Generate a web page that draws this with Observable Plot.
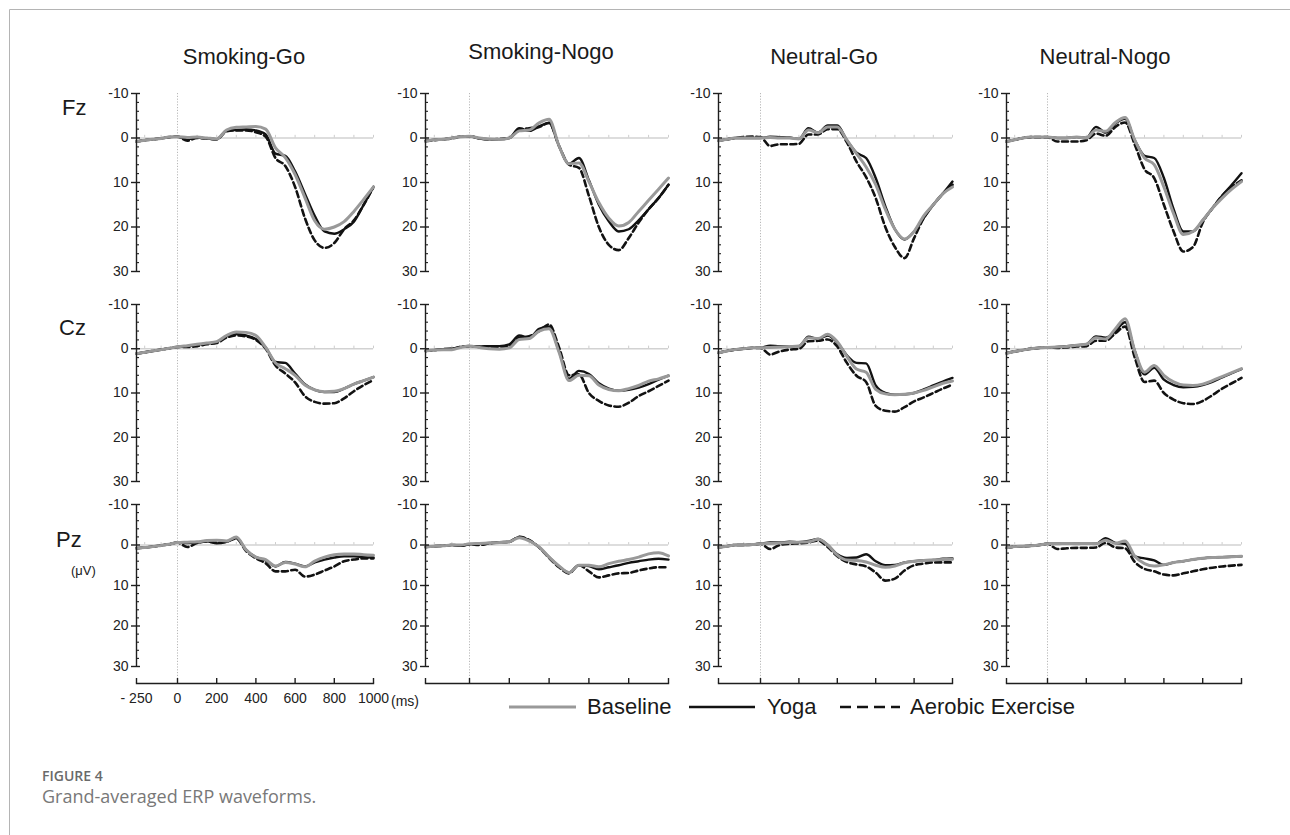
<!DOCTYPE html>
<html>
<head>
<meta charset="utf-8">
<script src="https://cdn.jsdelivr.net/npm/d3@7"></script>
<script src="https://cdn.jsdelivr.net/npm/@observablehq/plot@0.6"></script>
<style>
  body { margin: 0; background: #fff; }
  #figure { position: relative; width: 1290px; height: 835px; overflow: hidden; background: #fff;
            font-family: "Liberation Sans", Arial, sans-serif; }
  #figure svg.erp-panel { position: absolute; }
</style>
</head>
<body>
<div id="figure"></div>
<script>
// ---------------------------------------------------------------------------
// Grand-averaged ERP waveforms (µV, negative up), sampled every 50 ms
// ---------------------------------------------------------------------------
const times = [-250, -200, -150, -100, -50, 0, 50, 100, 150, 200, 250, 300, 350,
               400, 450, 500, 550, 600, 650, 700, 750, 800, 850, 900, 950, 1000];

const conditions = ["Smoking-Go", "Smoking-Nogo", "Neutral-Go", "Neutral-Nogo"];
const electrodes = ["Fz", "Cz", "Pz"];
const groups = ["Baseline", "Yoga", "Aerobic Exercise"];

const xTicks = [-250, 0, 200, 400, 600, 800, 1000];
const zeroLineTicks = [-200, -100, 100, 200, 300, 400, 500, 600, 700, 800, 900, 1000];
const yTicks = [-10, 0, 10, 20, 30];
const yMinorTicks = [-8, -6, -4, -2, 2, 4, 6, 8, 12, 14, 16, 18, 22, 24, 26, 28];

// Each array holds one row per condition, in the order of `conditions`.
const baselineFz = [
  [0.8, 0.5, 0.3, 0.1, -0.2, -0.3, -0.1, -0.2, 0.0, 0.2, -1.8, -2.4, -2.5, -2.6, -2.0, 2.2, 4.4, 8.2, 13.4, 18.6, 20.5, 20.0, 18.8, 16.5, 13.8, 11.0],
  [0.7, 0.4, 0.3, 0.0, -0.3, -0.4, 0.0, 0.2, 0.3, 0.0, -1.6, -1.8, -3.4, -4.2, 1.8, 5.8, 5.6, 9.8, 14.5, 18.0, 19.8, 19.0, 16.5, 14.0, 11.5, 9.0],
  [0.6, 0.3, 0.0, 0.0, 0.0, 0.0, -0.1, 0.0, 0.0, 0.2, -1.8, -1.2, -2.5, -2.5, 0.5, 3.5, 6.5, 10.5, 16.0, 20.5, 22.7, 21.0, 17.5, 15.0, 12.5, 11.0],
  [0.8, 0.4, 0.0, -0.2, -0.2, -0.2, 0.0, 0.0, -0.2, 0.0, -1.8, -1.5, -3.5, -4.6, 0.5, 4.5, 6.0, 11.0, 17.0, 21.7, 21.0, 18.5, 15.8, 13.5, 11.5, 9.8]
];
const yogaFz = [
  [0.8, 0.5, 0.3, 0.1, -0.2, -0.3, 0.3, -0.1, 0.1, 0.3, -1.6, -1.8, -1.9, -1.7, -0.8, 3.5, 4.0, 7.5, 12.5, 17.5, 21.0, 21.5, 20.5, 18.8, 15.0, 11.0],
  [0.7, 0.4, 0.3, 0.0, -0.3, -0.4, 0.1, 0.3, 0.3, 0.0, -2.2, -1.6, -2.6, -3.4, 1.8, 5.8, 4.5, 9.5, 15.0, 18.7, 21.0, 20.5, 18.5, 16.0, 13.5, 10.5],
  [0.6, 0.3, 0.0, 0.0, 0.0, 0.0, -0.3, -0.2, -0.1, 0.2, -2.2, -1.2, -2.8, -2.8, 0.5, 3.3, 4.5, 9.0, 15.3, 20.5, 22.8, 21.0, 18.0, 15.0, 12.5, 9.8],
  [0.8, 0.4, 0.0, -0.2, -0.2, -0.2, 0.0, 0.0, -0.2, 0.0, -2.5, -1.2, -3.3, -4.3, 0.5, 4.0, 4.5, 9.0, 16.0, 21.0, 21.0, 18.5, 15.8, 13.0, 10.5, 7.9]
];
const aerobicFz = [
  [0.8, 0.5, 0.3, 0.1, -0.2, -0.3, 0.6, 0.0, 0.1, 0.3, -1.5, -1.7, -1.7, -1.3, -0.3, 4.5, 6.3, 11.0, 18.0, 23.0, 24.7, 23.6, 20.5, 18.5, 15.0, 11.0],
  [0.7, 0.5, 0.3, 0.1, -0.3, -0.4, 0.1, 0.3, 0.2, 0.0, -1.8, -2.2, -2.5, -3.4, 1.8, 6.0, 6.7, 13.0, 20.0, 24.0, 25.2, 22.5, 19.0, 16.0, 13.5, 10.5],
  [0.6, 0.3, 0.0, -0.2, -0.3, -0.2, 1.8, 1.4, 1.4, 1.3, -0.8, -0.8, -2.0, -2.0, 1.0, 5.3, 8.8, 13.5, 20.0, 24.5, 27.0, 22.5, 18.0, 15.0, 12.5, 10.5],
  [0.8, 0.4, 0.0, -0.2, -0.2, -0.2, 0.8, 0.8, 0.8, 0.5, -1.0, -0.5, -2.5, -3.5, 1.5, 7.0, 9.0, 15.0, 21.0, 25.5, 24.5, 19.0, 15.8, 13.0, 11.0, 9.5]
];

const baselineCz = [
  [1.1, 0.8, 0.5, 0.2, -0.1, -0.4, -0.7, -1.0, -1.3, -1.6, -3.0, -3.8, -3.7, -3.0, -0.3, 3.2, 4.5, 6.0, 8.2, 9.3, 9.7, 9.6, 9.0, 8.0, 7.2, 6.4],
  [0.5, 0.3, 0.2, 0.2, -0.3, -0.6, -0.3, 0.0, 0.1, -0.2, -2.1, -2.3, -4.0, -4.5, 0.8, 7.2, 6.0, 6.1, 8.2, 9.2, 9.5, 9.0, 8.3, 7.3, 6.8, 6.1],
  [0.9, 0.5, 0.2, 0.0, -0.2, -0.2, -0.3, -0.4, -0.5, -0.6, -2.5, -2.3, -3.3, -1.6, 1.7, 4.6, 5.3, 9.2, 10.2, 10.4, 10.3, 10.0, 9.4, 8.6, 7.8, 7.3],
  [1.0, 0.6, 0.3, 0.0, -0.2, -0.3, -0.4, -0.5, -0.8, -1.0, -2.5, -2.2, -4.5, -6.8, 0.5, 5.3, 3.8, 6.0, 7.5, 8.2, 8.3, 8.0, 7.2, 6.3, 5.4, 4.5]
];
const yogaCz = [
  [1.1, 0.8, 0.5, 0.2, -0.1, -0.4, -0.6, -0.9, -1.2, -1.5, -2.8, -3.3, -3.0, -2.2, -0.3, 3.0, 3.2, 5.6, 8.0, 9.3, 9.8, 9.8, 9.0, 8.0, 7.2, 6.4],
  [0.5, 0.3, 0.1, 0.0, -0.4, -0.6, -0.5, -0.6, -0.6, -1.0, -3.0, -2.5, -4.5, -5.0, 0.5, 6.8, 5.0, 5.7, 7.8, 9.0, 9.5, 9.3, 8.8, 8.0, 7.0, 6.1],
  [0.9, 0.5, 0.2, 0.0, -0.2, -0.2, -0.7, -0.6, -0.6, -0.6, -2.7, -2.2, -3.0, -1.4, 1.5, 3.2, 3.3, 8.3, 10.0, 10.4, 10.3, 10.0, 9.2, 8.3, 7.4, 6.6],
  [1.0, 0.6, 0.3, 0.0, -0.2, -0.3, -0.4, -0.6, -0.8, -1.0, -2.8, -2.5, -4.0, -6.0, 0.5, 5.8, 4.3, 7.0, 8.2, 8.7, 8.6, 8.2, 7.5, 6.5, 5.5, 4.6]
];
const aerobicCz = [
  [1.1, 0.8, 0.5, 0.2, -0.1, -0.4, -0.4, -0.6, -1.0, -1.3, -2.5, -3.0, -2.8, -2.0, 0.0, 3.8, 5.6, 7.6, 10.7, 12.0, 12.4, 12.3, 11.2, 9.6, 8.2, 7.1],
  [0.5, 0.3, 0.1, 0.0, -0.4, -0.6, -0.4, -0.4, -0.5, -0.6, -2.5, -2.8, -4.0, -5.5, -0.3, 6.0, 5.8, 10.0, 11.8, 12.8, 13.1, 12.2, 10.7, 9.6, 8.4, 7.2],
  [0.9, 0.5, 0.2, 0.0, -0.2, -0.2, 1.3, 0.6, 0.2, 0.0, -1.7, -1.8, -2.1, -0.5, 3.2, 6.1, 7.5, 12.9, 14.0, 14.2, 13.2, 11.9, 11.0, 10.0, 9.0, 8.1],
  [1.0, 0.6, 0.3, 0.0, -0.2, -0.3, -0.2, -0.3, -0.5, -0.6, -1.8, -1.8, -3.5, -5.0, 2.0, 7.5, 7.2, 10.0, 11.5, 12.3, 12.5, 11.8, 10.5, 9.0, 7.8, 6.6]
];

const baselinePz = [
  [0.8, 0.6, 0.4, 0.1, -0.2, -0.6, -0.7, -0.8, -1.1, -1.2, -1.0, -2.0, 1.2, 3.0, 3.6, 5.2, 4.3, 4.7, 5.4, 4.0, 3.0, 2.4, 2.2, 2.2, 2.4, 2.5],
  [0.5, 0.3, 0.2, 0.0, 0.0, -0.3, -0.4, -0.5, -0.6, -0.8, -1.8, -1.0, 0.5, 3.0, 5.2, 6.8, 5.0, 5.0, 5.4, 4.6, 4.0, 3.6, 3.0, 2.2, 1.9, 2.7],
  [0.6, 0.3, 0.0, 0.0, -0.1, -0.3, -0.4, -0.5, -0.6, -0.7, -0.8, -1.4, 0.0, 2.5, 3.7, 3.8, 4.2, 5.0, 5.5, 5.2, 4.4, 4.0, 3.8, 3.7, 3.6, 3.5],
  [0.7, 0.4, 0.3, 0.2, 0.0, -0.3, -0.3, -0.4, -0.3, -0.4, -0.3, -1.2, -0.4, -1.0, 2.8, 4.6, 5.2, 4.9, 4.3, 4.0, 3.6, 3.3, 3.1, 3.0, 2.9, 2.8]
];
const yogaPz = [
  [0.8, 0.6, 0.4, 0.1, -0.2, -0.6, -0.5, -0.6, -0.9, -0.4, -0.8, -1.8, 1.2, 3.0, 3.8, 5.3, 4.2, 4.6, 5.3, 4.3, 3.6, 3.1, 2.8, 2.8, 3.0, 3.1],
  [0.5, 0.3, 0.2, 0.0, 0.2, -0.2, -0.3, -0.5, -0.7, -0.8, -2.0, -1.2, 0.6, 3.0, 5.3, 6.8, 5.0, 5.2, 6.0, 5.5, 5.0, 4.4, 4.0, 3.6, 3.4, 3.6],
  [0.6, 0.3, 0.0, 0.0, -0.1, -0.3, -0.6, -0.6, -0.8, -0.7, -1.0, -1.5, 0.0, 2.3, 3.2, 3.1, 2.3, 4.0, 5.0, 4.9, 4.3, 4.0, 3.8, 3.7, 3.4, 3.3],
  [0.7, 0.4, 0.3, 0.2, 0.0, -0.3, -0.3, -0.4, -0.3, -0.4, -0.3, -1.7, -0.5, -0.3, 2.8, 3.3, 3.8, 4.9, 4.3, 4.0, 3.6, 3.3, 3.1, 3.0, 2.9, 2.8]
];
const aerobicPz = [
  [0.8, 0.6, 0.4, 0.1, -0.2, -0.6, 0.5, -0.5, -0.9, -0.6, -0.8, -1.6, 1.5, 3.3, 4.5, 6.5, 6.5, 6.1, 7.8, 7.3, 6.3, 5.3, 4.0, 3.6, 3.3, 3.3],
  [0.5, 0.3, 0.2, 0.0, 0.2, -0.2, 0.0, -0.4, -0.6, -0.8, -2.0, -1.2, 0.6, 3.2, 5.5, 7.0, 5.0, 6.5, 8.0, 7.5, 7.0, 6.9, 6.3, 5.8, 5.5, 5.5],
  [0.6, 0.3, 0.0, 0.0, -0.1, -0.3, 1.0, 0.0, -0.3, -0.4, -0.6, -1.1, 0.5, 2.8, 4.2, 4.8, 5.3, 6.8, 8.8, 8.3, 6.3, 5.0, 4.6, 4.3, 4.3, 4.3],
  [0.7, 0.4, 0.3, 0.2, 0.0, -0.3, 1.0, 0.8, 0.7, 0.7, 0.6, -0.5, 0.6, 0.8, 4.2, 5.9, 6.5, 7.3, 7.5, 7.0, 6.5, 6.0, 5.6, 5.3, 5.1, 4.9]
];

// ---------------------------------------------------------------------------
// Lookup of the arrays above by group and electrode
// ---------------------------------------------------------------------------
const waves = {
  "Baseline": [baselineFz, baselineCz, baselinePz],
  "Yoga": [yogaFz, yogaCz, yogaPz],
  "Aerobic Exercise": [aerobicFz, aerobicCz, aerobicPz]
};

const groupStyle = {
  "Baseline": {stroke: "#999999", strokeWidth: 3},
  "Yoga": {stroke: "#121212", strokeWidth: 2.4},
  "Aerobic Exercise": {stroke: "#121212", strokeWidth: 2.6, strokeDasharray: "6,3.5"}
};
const drawOrder = ["Aerobic Exercise", "Yoga", "Baseline"];

// Panel grid: page x of the voltage axis, of stimulus onset and of 1000 ms
const columnFrames = [
  {left: 136, zero: 177, right: 373},
  {left: 425, zero: 469, right: 668},
  {left: 718, zero: 760, right: 952},
  {left: 1006, zero: 1047, right: 1241}
];
// Panel rows: svg top, height, margins and insets that place -10 and 30 µV
const rowFrames = [
  {top: 83, height: 207, marginTop: 10, marginBottom: 0, insetTop: 0, insetBottom: 19},
  {top: 290, height: 200, marginTop: 0, marginBottom: 0, insetTop: 14, insetBottom: 9},
  {top: 490, height: 235, marginTop: 0, marginBottom: 42, insetTop: 14, insetBottom: 17}
];
const M_LEFT = 45, M_RIGHT = 14;
const axisColor = "#1e1e1e";
const fontFamily = "'Liberation Sans', Arial, Helvetica, sans-serif";
const captionFont = "'Open Sans', 'Noto Sans', sans-serif";
const msFormat = d => d < 0 ? `- ${-d}` : `${d}`;
const uvFormat = d => `${d}`;
const axisText = {fontFamily, fontSize: 14, fill: "#222"};

function seriesRows(group, r, c) {
  const values = waves[group][r][c];
  return times.map((t, i) => ({t, v: values[i]}));
}

function panel(r, c) {
  const col = columnFrames[c];
  const row = rowFrames[r];
  const innerW = col.right - col.left;
  const isBottom = r === electrodes.length - 1;

  const marks = [
    // stimulus onset
    Plot.ruleX([0], {stroke: "#b8b8b8", strokeWidth: 1, strokeDasharray: "1.2,1.6"}),
    // 0 µV reference line with its small time ticks
    Plot.ruleY([0], {stroke: "#d2d2d2", strokeWidth: 1.3}),
    Plot.ruleX(zeroLineTicks, {y1: 0, y2: -0.6, stroke: "#cdcdcd", strokeWidth: 1}),
    ...drawOrder.map(g => Plot.line(seriesRows(g, r, c), {
      x: "t", y: "v", curve: "monotone-x", strokeLinejoin: "round", ...groupStyle[g]
    })),
    // voltage axis
    Plot.ruleX([xTicks[0]], {y1: yTicks[0], y2: yTicks[yTicks.length - 1], stroke: axisColor, strokeWidth: 1.4}),
    Plot.axisY({ticks: yTicks, tickSize: 5, tickPadding: 3, tickFormat: uvFormat, label: null,
                stroke: axisColor, strokeWidth: 1.4, ...axisText}),
    Plot.axisY({ticks: yTicks, tickSize: -4, tickFormat: () => "", label: null, stroke: axisColor, strokeWidth: 1.4}),
    Plot.axisY({ticks: yMinorTicks, tickSize: -3, tickFormat: () => "", label: null, stroke: axisColor, strokeWidth: 1.1})
  ];

  if (isBottom) {
    marks.push(
      Plot.frame({anchor: "bottom", stroke: axisColor, strokeWidth: 1.4}),
      Plot.axisX({ticks: xTicks, tickSize: -5, tickFormat: () => "", label: null, stroke: axisColor, strokeWidth: 1.4})
    );
    if (c === 0) {
      marks.push(Plot.axisX({ticks: xTicks, tickSize: 0, tickPadding: 10, tickFormat: msFormat, label: null, ...axisText}));
    }
  }

  const svg = Plot.plot({
    width: innerW + M_LEFT + M_RIGHT,
    height: row.height,
    marginLeft: M_LEFT,
    marginRight: M_RIGHT,
    marginTop: row.marginTop,
    marginBottom: row.marginBottom,
    x: {
      type: "linear",
      domain: [xTicks[0], 0, xTicks[xTicks.length - 1]],
      range: [M_LEFT, M_LEFT + (col.zero - col.left), M_LEFT + innerW],
      ...(isBottom ? {} : {axis: null})
    },
    y: {domain: [yTicks[0], yTicks[yTicks.length - 1]], reverse: true,
        insetTop: row.insetTop, insetBottom: row.insetBottom},
    style: {fontFamily, fontSize: "14px", color: "#222", background: "transparent", overflow: "visible"},
    marks
  });
  svg.classList.add("erp-panel");
  svg.style.left = `${col.left - M_LEFT}px`;
  svg.style.top = `${row.top}px`;
  svg.style.maxWidth = "none";
  svg.style.fontFamily = fontFamily;
  return svg;
}

const figure = document.getElementById("figure");
electrodes.forEach((_, r) => conditions.forEach((_, c) => figure.appendChild(panel(r, c))));

// ---------------------------------------------------------------------------
// Titles, electrode labels, legend and caption
// ---------------------------------------------------------------------------
const overlay = d3.select(figure).append("svg")
  .attr("width", 1290).attr("height", 835)
  .style("position", "absolute").style("left", "0px").style("top", "0px")
  .style("pointer-events", "none");

function label(x, y, text, size, opts = {}) {
  return overlay.append("text").attr("x", x).attr("y", y)
    .attr("font-family", opts.family || fontFamily)
    .attr("font-size", size)
    .attr("font-weight", opts.weight || null)
    .attr("text-anchor", opts.anchor || "start")
    .attr("fill", opts.fill || "#1a1a1a")
    .text(text);
}

overlay.append("path")
  .attr("d", "M9.5,835V9.5H1290")
  .attr("fill", "none").attr("stroke", "#b4b4b4").attr("stroke-width", 1);

const titleSpots = [{x: 244, y: 64}, {x: 541, y: 59}, {x: 824, y: 64}, {x: 1105, y: 64}];
conditions.forEach((name, i) => label(titleSpots[i].x, titleSpots[i].y, name, 22, {anchor: "middle"}));

const electrodeSpots = [{x: 62, y: 115}, {x: 59, y: 335}, {x: 56, y: 547}];
electrodes.forEach((name, i) => label(electrodeSpots[i].x, electrodeSpots[i].y, name, 22));
label(71, 575, "(μV)", 13);
label(391, 706, "(ms)", 14, {fill: "#222"});

// legend
const legendItems = [
  {group: "Baseline", x1: 509, x2: 576, tx: 587},
  {group: "Yoga", x1: 689, x2: 755, tx: 767},
  {group: "Aerobic Exercise", x1: 840, x2: 900, tx: 910}
];
legendItems.forEach(item => {
  const st = groupStyle[item.group];
  overlay.append("line").attr("x1", item.x1).attr("x2", item.x2).attr("y1", 707).attr("y2", 707)
    .attr("stroke", st.stroke).attr("stroke-width", st.strokeWidth)
    .attr("stroke-dasharray", st.strokeDasharray ? "11,6" : null);
  label(item.tx, 714, item.group, 22);
});

// caption
label(42, 781, "FIGURE 4", 14, {family: captionFont, weight: 600, fill: "#6a6a6a"});
label(42, 803, "Grand-averaged ERP waveforms.", 18, {family: captionFont, fill: "#787878"});
</script>
</body>
</html>
